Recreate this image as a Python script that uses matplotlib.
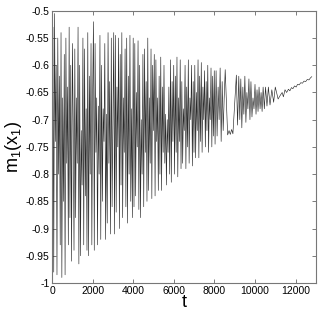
import numpy as np
import matplotlib
matplotlib.use("Agg")
import matplotlib.pyplot as plt
from matplotlib.ticker import FormatStrFormatter

# ====================== data (extrema) ======================
t_a = [0, 30, 70, 110, 150, 190, 230, 270, 310, 350, 390, 430, 470, 510, 550, 590, 630, 670,
       710, 750, 790, 830, 870, 910, 950, 990]
m_a = [-0.99, -0.53, -0.98, -0.505, -0.74, -0.60, -0.985, -0.55, -0.80, -0.62, -0.93, -0.54, -0.99,
       -0.66, -0.85, -0.58, -0.985, -0.55, -0.78, -0.64, -0.93, -0.53, -0.88, -0.60, -0.96, -0.56]

t_b = [1030, 1070, 1110, 1150, 1190, 1230, 1270, 1310, 1350, 1390, 1430, 1470, 1510, 1550, 1590,
       1630, 1670, 1710, 1750, 1790, 1830, 1870, 1910, 1950, 1990]
m_b = [-0.70, -0.94, -0.57, -0.88, -0.66, -0.78, -0.53, -0.965, -0.60, -0.95, -0.72, -0.82, -0.55,
       -0.93, -0.57, -0.84, -0.68, -0.94, -0.54, -0.95, -0.62, -0.80, -0.56, -0.93, -0.65]

t_c = [2030, 2070, 2110, 2150, 2190, 2230, 2270, 2310, 2350, 2390, 2430, 2470, 2510, 2550, 2590,
       2630, 2670, 2710, 2750, 2790, 2830, 2870, 2910, 2950, 2990]
m_c = [-0.52, -0.94, -0.56, -0.76, -0.66, -0.93, -0.675, -0.80, -0.545, -0.92, -0.60, -0.85, -0.68,
       -0.74, -0.56, -0.92, -0.69, -0.89, -0.54, -0.78, -0.63, -0.91, -0.55, -0.86, -0.70]

t_d = [3030, 3070, 3110, 3150, 3190, 3230, 3270, 3310, 3350, 3390, 3430, 3470, 3510, 3550, 3590,
       3630, 3670, 3710, 3750, 3790, 3830, 3870, 3910, 3950, 3990]
m_d = [-0.54, -0.91, -0.545, -0.87, -0.64, -0.75, -0.55, -0.90, -0.58, -0.82, -0.54, -0.88, -0.66,
       -0.76, -0.57, -0.86, -0.55, -0.89, -0.62, -0.80, -0.545, -0.85, -0.68, -0.88, -0.55]

t_e = [4030, 4070, 4110, 4150, 4190, 4230, 4270, 4310, 4350, 4390, 4430, 4470, 4510, 4550, 4590,
       4630, 4670, 4710, 4750, 4790, 4830, 4870, 4910, 4950, 4990]
m_e = [-0.86, -0.56, -0.84, -0.65, -0.75, -0.555, -0.865, -0.60, -0.88, -0.70, -0.80, -0.58, -0.86,
       -0.57, -0.76, -0.63, -0.85, -0.55, -0.83, -0.66, -0.78, -0.57, -0.845, -0.60, -0.72]

t_f = [5030, 5070, 5110, 5150, 5190, 5230, 5270, 5310, 5350, 5390, 5430, 5470, 5510, 5550, 5590,
       5630, 5670, 5710, 5750, 5790, 5830, 5870, 5910, 5950, 5990]
m_f = [-0.58, -0.84, -0.59, -0.74, -0.66, -0.83, -0.62, -0.80, -0.585, -0.83, -0.64, -0.76, -0.60,
       -0.78, -0.69, -0.82, -0.70, -0.76, -0.64, -0.80, -0.59, -0.815, -0.63, -0.74, -0.60]

t_g = [6030, 6070, 6110, 6150, 6190, 6230, 6270, 6310, 6350, 6390, 6430, 6470, 6510, 6550, 6590,
       6630, 6670, 6710, 6750, 6790, 6830, 6870, 6910, 6950, 6990]
m_g = [-0.80, -0.62, -0.76, -0.585, -0.805, -0.66, -0.74, -0.59, -0.79, -0.63, -0.78, -0.68, -0.72,
       -0.60, -0.79, -0.64, -0.75, -0.59, -0.78, -0.66, -0.70, -0.60, -0.785, -0.63, -0.76]

t_h = [7030, 7070, 7110, 7150, 7190, 7230, 7270, 7310, 7350, 7390, 7430, 7470, 7510, 7550, 7590,
       7630, 7670, 7710, 7750, 7790, 7830, 7870, 7910, 7950, 7990]
m_h = [-0.60, -0.77, -0.65, -0.72, -0.59, -0.77, -0.62, -0.74, -0.595, -0.76, -0.64, -0.70, -0.61,
       -0.75, -0.63, -0.72, -0.60, -0.76, -0.66, -0.70, -0.605, -0.75, -0.62, -0.73, -0.61]

t_i = [8030, 8080, 8130, 8180, 8230, 8280, 8330, 8380, 8430, 8480, 8530, 8650, 8720, 8780, 8850, 8910]
m_i = [-0.745, -0.61, -0.73, -0.64, -0.70, -0.605, -0.74, -0.63, -0.72, -0.66, -0.608, -0.728, -0.72,
       -0.727, -0.718, -0.726]

t_j = [9080, 9140, 9200, 9250, 9300, 9350, 9400, 9450, 9500, 9550, 9600, 9650, 9700, 9750,
       9800, 9850, 9900, 9950, 10000, 10050, 10100, 10150, 10200, 10250, 10300, 10350, 10400,
       10460, 10520, 10590, 10660, 10740, 10830, 10920, 11000]
m_j = [-0.618, -0.71, -0.62, -0.70, -0.625, -0.715, -0.64, -0.69, -0.62, -0.705, -0.65, -0.68, -0.625,
       -0.70, -0.63, -0.695, -0.66, -0.68, -0.635, -0.69, -0.645, -0.685, -0.64, -0.68, -0.65, -0.685,
       -0.64, -0.68, -0.64, -0.675, -0.64, -0.673, -0.645, -0.668, -0.64]

t_k = [11140, 11250, 11340, 11400, 11480, 11560, 11650, 11720, 11800, 11870, 11950, 12030,
       12100, 12180, 12260, 12340, 12420, 12500, 12580, 12660, 12740, 12800]
m_k = [-0.662, -0.655, -0.650, -0.658, -0.645, -0.650, -0.644, -0.647, -0.641, -0.643, -0.638, -0.640,
       -0.635, -0.636, -0.632, -0.633, -0.629, -0.630, -0.626, -0.627, -0.623, -0.621]

t = np.array(t_a + t_b + t_c + t_d + t_e + t_f + t_g + t_h + t_i + t_j + t_k)
m = np.array(m_a + m_b + m_c + m_d + m_e + m_f + m_g + m_h + m_i + m_j + m_k)

x_ticks = [0, 2000, 4000, 6000, 8000, 10000, 12000]
y_ticks = [-1, -0.95, -0.9, -0.85, -0.8, -0.75, -0.7, -0.65, -0.6, -0.55, -0.5]

# ====================== plot ======================
plt.rcParams['font.family'] = ['Liberation Sans', 'DejaVu Sans']
plt.rcParams['mathtext.default'] = 'regular'
plt.rcParams['axes.unicode_minus'] = False

fig = plt.figure(figsize=(3.19, 3.19), dpi=100)
ax = fig.add_axes([0.164, 0.113, 0.826, 0.853])
ax.plot(t, m, color='#2a2a2a', lw=0.45)

ax.set_xlim(0, 13000)
ax.set_ylim(-1, -0.5)
ax.set_xticks(x_ticks)
ax.set_yticks(y_ticks)
ax.yaxis.set_major_formatter(FormatStrFormatter('%g'))
ax.tick_params(direction='in', top=True, right=True, length=3, width=0.6,
               color='#666666', labelsize=7.5, pad=2)
for s in ax.spines.values():
    s.set_color('#777777')
    s.set_linewidth(0.8)

ax.set_xlabel('t', fontsize=13, labelpad=-1)
ax.set_ylabel('$m_1(x_1)$', fontsize=13, labelpad=1)

fig.savefig('out.png', dpi=100)
